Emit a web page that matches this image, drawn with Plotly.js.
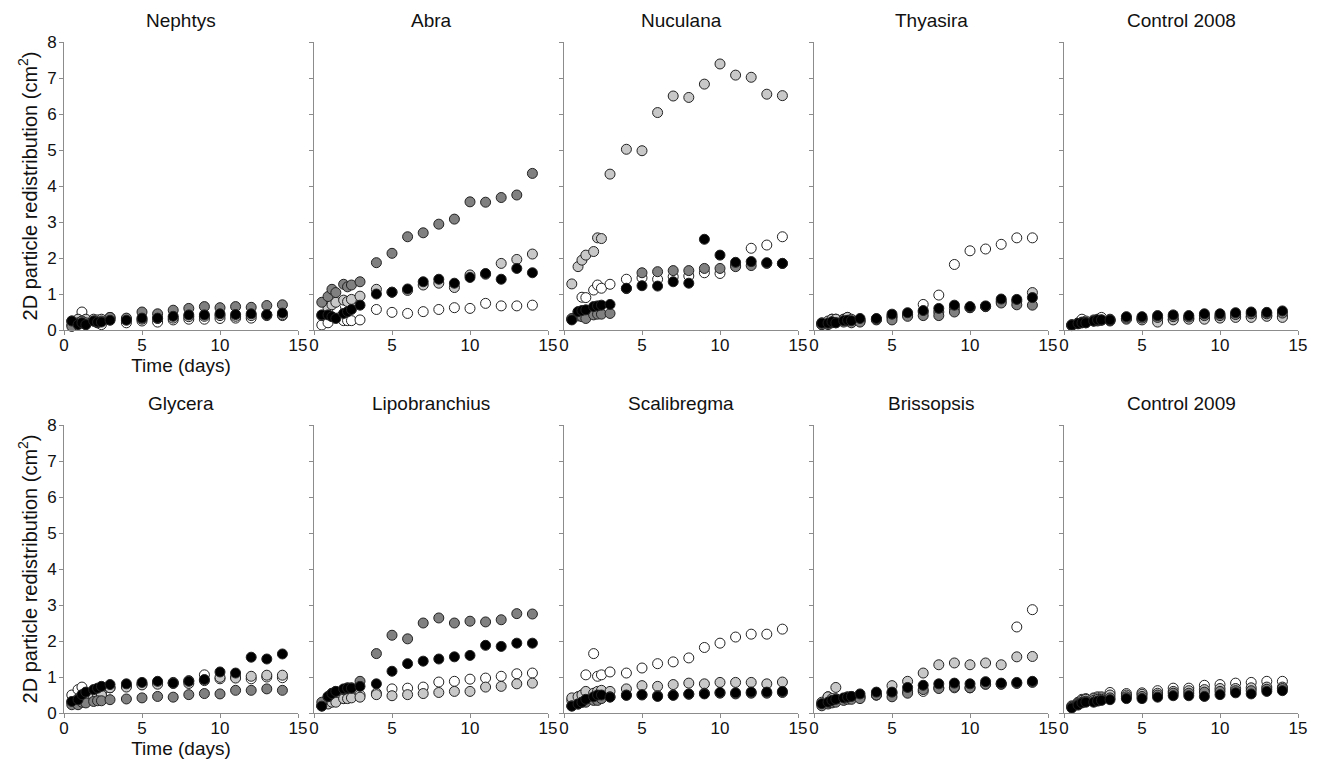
<!DOCTYPE html>
<html><head><meta charset="utf-8">
<script src="https://cdn.plot.ly/plotly-3.0.1.min.js"></script>
<style>html,body{margin:0;padding:0;background:#fff;}#chart{width:1322px;height:770px;}</style>
</head><body><div id="chart"></div>
<script>
// Time points (days)
const days = [0.5, 0.9, 1.15, 1.4, 1.9, 2.15, 2.4, 2.95, 4, 5, 6, 7, 8, 9, 10, 11, 12, 13, 14];
const panelNames = ["Nephtys","Abra","Nuculana","Thyasira","Control 2008","Glycera","Lipobranchius","Scalibregma","Brissopsis","Control 2009"];
const xTicks = [0, 5, 10, 15];
const yTicks = [0, 1, 2, 3, 4, 5, 6, 7, 8];

// Series: white, light gray, dark gray, black
const nephtysWhite = [0.15,0.2,0.5,0.15,0.25,0.2,0.15,0.3,0.2,0.25,0.22,0.28,0.3,0.3,0.32,0.33,0.33,0.4,0.4];
const nephtysLight = [0.25,0.3,0.25,0.3,0.3,0.28,0.3,0.35,0.3,0.3,0.32,0.33,0.37,0.38,0.4,0.38,0.4,0.42,0.42];
const nephtysDark  = [0.1,0.2,0.25,0.2,0.25,0.2,0.25,0.35,0.33,0.5,0.45,0.55,0.6,0.65,0.62,0.65,0.63,0.68,0.7];
const nephtysBlack = [0.25,0.15,0.2,0.15,0.25,0.22,0.22,0.27,0.27,0.33,0.33,0.38,0.42,0.42,0.45,0.43,0.45,0.43,0.47];

const abraWhite = [0.14,0.2,0.5,0.6,0.26,0.26,0.26,0.28,0.57,0.49,0.46,0.51,0.57,0.62,0.6,0.74,0.67,0.67,0.69];
const abraLight = [0.4,0.6,0.7,0.77,0.83,0.79,0.85,0.94,1.13,1.05,1.1,1.25,1.3,1.18,1.53,1.55,1.85,1.96,2.11];
const abraDark  = [0.77,0.93,1.13,1.04,1.27,1.2,1.25,1.34,1.87,2.13,2.59,2.7,2.94,3.08,3.56,3.55,3.68,3.75,4.35];
const abraBlack = [0.42,0.42,0.37,0.32,0.46,0.51,0.57,0.69,1.0,1.05,1.14,1.34,1.41,1.3,1.46,1.57,1.41,1.71,1.59];

const nuculanaWhite = [0.3,0.5,0.91,0.9,1.11,1.25,1.16,1.27,1.41,1.45,1.41,1.48,1.5,1.59,1.57,1.8,2.27,2.36,2.59];
const nuculanaLight = [1.28,1.76,1.94,2.08,2.18,2.56,2.54,4.33,5.02,4.98,6.04,6.5,6.46,6.83,7.39,7.08,7.02,6.55,6.51];
const nuculanaDark  = [0.32,0.39,0.37,0.32,0.42,0.44,0.44,0.46,1.15,1.59,1.62,1.65,1.65,1.71,1.71,1.76,1.79,1.85,1.85];
const nuculanaBlack = [0.28,0.51,0.54,0.56,0.65,0.67,0.69,0.71,1.16,1.23,1.22,1.34,1.3,2.52,2.08,1.88,1.9,1.87,1.85];

const thyasiraWhite = [0.15,0.2,0.3,0.3,0.3,0.35,0.25,0.25,0.3,0.35,0.42,0.71,0.97,1.82,2.2,2.25,2.38,2.56,2.56];
const thyasiraLight = [0.2,0.25,0.3,0.3,0.3,0.35,0.3,0.28,0.28,0.38,0.42,0.5,0.5,0.6,0.62,0.65,0.8,0.8,1.04];
const thyasiraDark  = [0.15,0.15,0.2,0.2,0.22,0.25,0.2,0.22,0.3,0.28,0.38,0.4,0.4,0.5,0.62,0.65,0.75,0.7,0.69];
const thyasiraBlack = [0.19,0.19,0.23,0.2,0.26,0.27,0.26,0.32,0.32,0.44,0.48,0.54,0.6,0.69,0.65,0.67,0.86,0.85,0.9];

const control2008White = [0.15,0.2,0.3,0.25,0.28,0.3,0.35,0.3,0.32,0.3,0.32,0.3,0.32,0.33,0.35,0.37,0.38,0.4,0.38];
const control2008Light = [0.12,0.18,0.22,0.22,0.25,0.25,0.28,0.25,0.3,0.28,0.22,0.28,0.3,0.3,0.33,0.35,0.35,0.38,0.35];
const control2008Dark  = [0.13,0.17,0.2,0.2,0.25,0.27,0.27,0.27,0.33,0.33,0.35,0.37,0.36,0.4,0.4,0.43,0.45,0.45,0.47];
const control2008Black = [0.14,0.18,0.2,0.2,0.25,0.28,0.28,0.28,0.37,0.37,0.4,0.42,0.4,0.45,0.45,0.48,0.5,0.49,0.53];

const glyceraWhite = [0.5,0.65,0.72,0.55,0.55,0.5,0.55,0.7,0.75,0.8,0.85,0.85,0.9,1.06,0.95,1.0,0.95,1.0,0.98];
const glyceraLight = [0.3,0.4,0.45,0.45,0.45,0.5,0.5,0.7,0.72,0.78,0.8,0.82,0.82,0.9,0.99,0.97,1.02,1.05,1.05];
const glyceraDark  = [0.23,0.23,0.3,0.28,0.32,0.34,0.34,0.37,0.39,0.42,0.46,0.44,0.51,0.54,0.53,0.63,0.63,0.67,0.63];
const glyceraBlack = [0.32,0.37,0.51,0.58,0.65,0.69,0.74,0.79,0.81,0.85,0.88,0.83,0.88,0.93,1.14,1.11,1.55,1.5,1.64];

const lipobranchiusWhite = [0.2,0.3,0.35,0.4,0.4,0.45,0.45,0.5,0.55,0.67,0.69,0.72,0.86,0.88,0.94,0.97,1.02,1.09,1.11];
const lipobranchiusLight = [0.2,0.25,0.3,0.3,0.4,0.4,0.42,0.44,0.51,0.48,0.51,0.54,0.57,0.6,0.6,0.72,0.74,0.81,0.83];
const lipobranchiusDark  = [0.3,0.45,0.55,0.6,0.65,0.7,0.7,0.88,1.65,2.16,2.06,2.5,2.64,2.5,2.55,2.53,2.59,2.76,2.75];
const lipobranchiusBlack = [0.19,0.46,0.54,0.6,0.67,0.69,0.69,0.74,0.81,1.16,1.37,1.44,1.5,1.56,1.6,1.88,1.85,1.94,1.94];

const scalibregmaWhite = [0.35,0.45,0.5,1.06,1.65,1.02,1.06,1.14,1.11,1.25,1.37,1.42,1.53,1.82,1.94,2.11,2.19,2.19,2.33];
const scalibregmaLight = [0.42,0.45,0.5,0.6,0.55,0.6,0.63,0.6,0.67,0.76,0.74,0.79,0.83,0.81,0.85,0.85,0.85,0.81,0.86];
const scalibregmaDark  = [0.2,0.25,0.3,0.3,0.35,0.35,0.4,0.45,0.5,0.5,0.48,0.5,0.52,0.55,0.55,0.53,0.55,0.55,0.57];
const scalibregmaBlack = [0.19,0.25,0.3,0.38,0.45,0.5,0.5,0.44,0.49,0.51,0.46,0.49,0.53,0.53,0.57,0.56,0.58,0.58,0.6];

const brissopsisWhite = [0.25,0.45,0.35,0.4,0.4,0.42,0.45,0.45,0.5,0.55,0.6,0.6,0.7,0.7,0.7,0.8,0.8,2.39,2.87];
const brissopsisLight = [0.3,0.45,0.4,0.71,0.4,0.45,0.45,0.45,0.5,0.76,0.88,1.11,1.34,1.39,1.34,1.39,1.34,1.56,1.57];
const brissopsisDark  = [0.2,0.25,0.28,0.3,0.35,0.38,0.38,0.4,0.5,0.45,0.55,0.65,0.68,0.72,0.7,0.8,0.8,0.82,0.85];
const brissopsisBlack = [0.26,0.3,0.35,0.38,0.42,0.44,0.46,0.53,0.58,0.58,0.71,0.77,0.81,0.83,0.81,0.87,0.83,0.85,0.88];

const control2009White = [0.2,0.3,0.38,0.4,0.42,0.45,0.45,0.57,0.54,0.56,0.62,0.69,0.69,0.77,0.79,0.83,0.85,0.88,0.88];
const control2009Light = [0.18,0.28,0.35,0.38,0.4,0.42,0.42,0.5,0.5,0.52,0.55,0.6,0.62,0.65,0.68,0.68,0.7,0.72,0.72];
const control2009Dark  = [0.16,0.25,0.3,0.33,0.35,0.38,0.38,0.42,0.45,0.46,0.5,0.55,0.55,0.58,0.6,0.62,0.62,0.66,0.68];
const control2009Black = [0.14,0.22,0.28,0.3,0.3,0.33,0.35,0.37,0.4,0.4,0.44,0.48,0.48,0.46,0.51,0.56,0.53,0.6,0.62];

const panelSeries = [
  [nephtysWhite, nephtysLight, nephtysDark, nephtysBlack],
  [abraWhite, abraLight, abraDark, abraBlack],
  [nuculanaWhite, nuculanaLight, nuculanaDark, nuculanaBlack],
  [thyasiraWhite, thyasiraLight, thyasiraDark, thyasiraBlack],
  [control2008White, control2008Light, control2008Dark, control2008Black],
  [glyceraWhite, glyceraLight, glyceraDark, glyceraBlack],
  [lipobranchiusWhite, lipobranchiusLight, lipobranchiusDark, lipobranchiusBlack],
  [scalibregmaWhite, scalibregmaLight, scalibregmaDark, scalibregmaBlack],
  [brissopsisWhite, brissopsisLight, brissopsisDark, brissopsisBlack],
  [control2009White, control2009Light, control2009Dark, control2009Black]
];
const fills = ["#ffffff", "#c8c8c8", "#808080", "#000000"];

const W = 1322, H = 770;
const FONT = "Arial, 'Liberation Sans', sans-serif";
const TXT = "#111";
const traces = [];
const layout = {
  width: W, height: H, margin: {l:0, r:0, t:0, b:0},
  paper_bgcolor: "#ffffff", plot_bgcolor: "#ffffff",
  showlegend: false, font: {family: FONT, size: 17, color: TXT},
  annotations: []
};
const rowTops = [42, 425];
const plotH = 288, plotW = 234;

for (let p = 0; p < 10; p++) {
  const row = Math.floor(p / 5), col = p % 5;
  const x0 = 64 + 250 * col, x1 = x0 + plotW;
  const yTop = rowTops[row], yBot = yTop + plotH;
  const n = p + 1;
  const xa = "xaxis" + (n === 1 ? "" : n), ya = "yaxis" + (n === 1 ? "" : n);
  const xr = "x" + (n === 1 ? "" : n), yr = "y" + (n === 1 ? "" : n);
  layout[xa] = {
    domain: [x0 / W, x1 / W], anchor: yr, range: [0, 15], tickvals: xTicks,
    showline: true, linecolor: "#8c8c8c", linewidth: 1, ticks: "outside", ticklen: 4,
    tickcolor: "#8c8c8c", showgrid: false, zeroline: false, ticklabelstandoff: -4,
    tickfont: {family: FONT, size: 17, color: TXT}, fixedrange: true
  };
  if (col === 0) layout[xa].title = {text: "Time (days)", font: {family: FONT, size: 19, color: TXT}, standoff: 0};
  layout[ya] = {
    domain: [1 - yBot / H, 1 - yTop / H], anchor: xr, range: [0, 8], tickvals: yTicks,
    showline: true, linecolor: "#8c8c8c", linewidth: 1, ticks: "outside", ticklen: 4,
    tickcolor: "#8c8c8c", showgrid: false, zeroline: false, showticklabels: col === 0,
    ticklabelstandoff: -1,
    tickfont: {family: FONT, size: 17, color: TXT}, fixedrange: true
  };
  if (col === 0) layout[ya].title = {text: "2D particle redistribution (cm<sup>2</sup>)", font: {family: FONT, size: 20, color: TXT}, standoff: 4};
  layout.annotations.push({
    text: panelNames[p], xref: "paper", yref: "paper",
    x: (x0 + plotW / 2) / W, y: 1 - (yTop - 22) / H, xanchor: "center", yanchor: "middle",
    showarrow: false, font: {family: FONT, size: 19, color: TXT}
  });
  panelSeries[p].forEach((vals, s) => {
    traces.push({
      type: "scatter", mode: "markers", x: days, y: vals, xaxis: xr, yaxis: yr,
      marker: {size: 10, color: fills[s], line: {color: "#222", width: 1}},
      cliponaxis: false, hoverinfo: "x+y"
    });
  });
}
Plotly.newPlot("chart", traces, layout, {staticPlot: true});
</script></body></html>
